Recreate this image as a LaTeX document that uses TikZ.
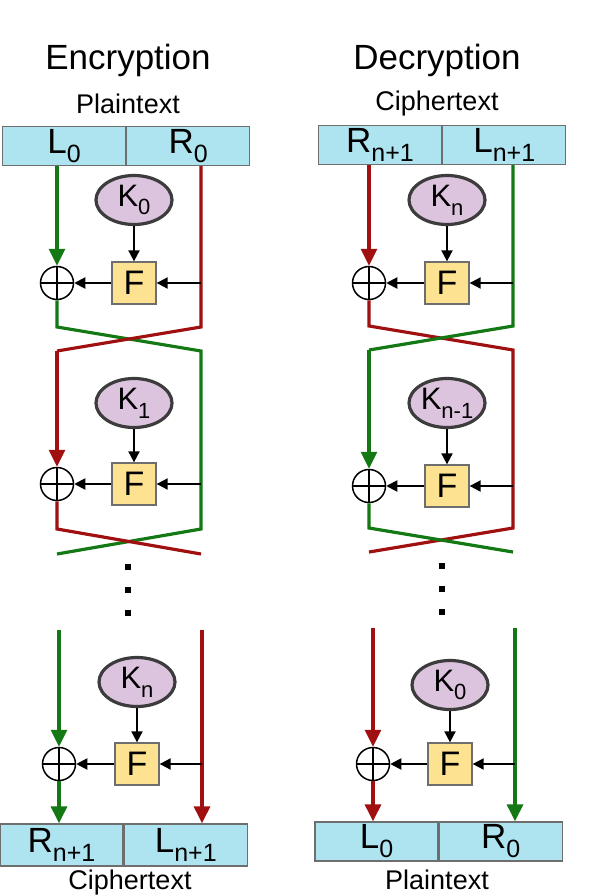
\documentclass[tikz,border=0pt]{standalone}
\usepackage{fontspec}
\setmainfont{Liberation Sans}
\usetikzlibrary{arrows.meta,shapes.geometric,positioning}

\definecolor{halfblue}{RGB}{174,228,240}
\definecolor{keypink}{RGB}{221,196,222}
\definecolor{keyrim}{RGB}{60,60,60}
\definecolor{fyellow}{RGB}{252,226,145}
\definecolor{boxgray}{RGB}{110,110,110}
\definecolor{wiregreen}{RGB}{20,120,20}
\definecolor{wirered}{RGB}{160,16,16}

\newcommand{\lowsub}[1]{\raisebox{-0.26em}{\fontsize{25}{25}\selectfont #1}}
\newcommand{\keysub}[1]{\raisebox{-0.28em}{\fontsize{22}{22}\selectfont #1}}

\begin{document}
\begin{tikzpicture}[x=1pt,y=-1pt,>={Triangle[length=11pt,width=11pt]},
	half/.style={draw=boxgray,fill=halfblue,line width=1.3pt,minimum width=123pt,
		minimum height=39pt,inner sep=0pt,font=\fontsize{35}{36}\selectfont},
	key/.style={ellipse,draw=keyrim,line width=3.2pt,fill=keypink,minimum width=76pt,
		minimum height=49pt,inner sep=0pt,font=\fontsize{31}{32}\selectfont},
	fbox/.style={draw=boxgray,line width=1.3pt,fill=fyellow,minimum width=44pt,
		minimum height=42pt,inner sep=0pt,font=\fontsize{34}{34}\selectfont},
	xor/.style={circle,draw,line width=1.5pt,minimum size=33pt,inner sep=0pt,
		path picture={\draw[line width=1.5pt] (path picture bounding box.north) -- (path picture bounding box.south)
			(path picture bounding box.west) -- (path picture bounding box.east);}},
	gwire/.style={draw=wiregreen,line width=3.2pt},
	rwire/.style={draw=wirered,line width=3.2pt},
	tip/.style={-{Triangle[length=17pt,width=16pt]}},
	farrow/.style={->,line width=1.9pt},
	title/.style={font=\fontsize{35}{36}\selectfont},
	caption/.style={font=\fontsize{27}{28}\selectfont},
	dot/.style={fill,minimum size=6pt,inner sep=0pt}]
	
	\useasboundingbox (0,0) rectangle (594,896);
	
	% encryption
	\node[title] (enctitle) at (128,60) {Encryption};
	\node[caption] (encin) at (128,104) {Plaintext};
	\node[half] (eL0) at (64,146) {L\lowsub{0}};
	\node[half,right=0pt of eL0] (eR0) {R\lowsub{0}};
	
	\node[key] (eK0) at (134,200) {K\keysub{0}};
	\node[fbox] (eF0) at (134,283) {F};
	\node[xor] (eX0) at (57,283) {};
	\coordinate (e1tl) at (57,327);
	\coordinate (e1tr) at (201,327);
	\coordinate (e1bl) at (57,351);
	\coordinate (e1br) at (201,351);
	
	\node[key] (eK1) at (134,403) {K\keysub{1}};
	\node[fbox] (eF1) at (134,484) {F};
	\node[xor] (eX1) at (57,484) {};
	\coordinate (e2tl) at (57,529);
	\coordinate (e2tr) at (201,529);
	\coordinate (e2bl) at (57,554);
	\coordinate (e2br) at (201,554);
	
	\node[dot] (edot1) at (128,567) {};
	\node[dot] (edot2) at (128,590) {};
	\node[dot] (edot3) at (128,613) {};
	
	\coordinate (e3l) at (59,630);
	\coordinate (e3r) at (202,630);
	\node[key] (eKn) at (137,682) {K\keysub{n}};
	\node[fbox] (eFn) at (137,764) {F};
	\node[xor] (eXn) at (59,764) {};
	\node[half,minimum height=42pt] (eRn) at (61.5,845) {R\lowsub{n+1}};
	\node[half,minimum height=42pt,right=0pt of eRn] (eLn) {L\lowsub{n+1}};
	\node[caption] (encout) at (130,883) {Ciphertext};
	
	\draw[gwire,tip] (eL0.south -| eX0) -- (eX0);
	\draw[gwire] (eX0) -- (e1tl) -- (e1br) -- (e2tr) -- (e2bl);
	\draw[rwire] (eR0.south -| e1tr) -- (e1tr) -- (e1bl);
	\draw[rwire,tip] (e1bl) -- (eX1);
	\draw[rwire] (eX1) -- (e2tl) -- (e2br);
	\draw[gwire,tip] (e3l) -- (eXn);
	\draw[gwire,tip] (eXn) -- (eRn.north -| eXn);
	\draw[rwire,tip] (e3r) -- (eLn.north -| e3r);
	
	\draw[farrow] (eK0) -- (eF0);
	\draw[farrow] (eF0 -| e1tr) -- (eF0);
	\draw[farrow] (eF0) -- (eX0);
	\draw[farrow] (eK1) -- (eF1);
	\draw[farrow] (eF1 -| e2tr) -- (eF1);
	\draw[farrow] (eF1) -- (eX1);
	\draw[farrow] (eKn) -- (eFn);
	\draw[farrow] (eFn -| e3r) -- (eFn);
	\draw[farrow] (eFn) -- (eXn);
	
	% decryption
	\node[title] (dectitle) at (437,60) {Decryption};
	\node[caption] (decin) at (437,104) {Ciphertext};
	\node[half] (dRn) at (380,145) {R\lowsub{n+1}};
	\node[half,right=0pt of dRn] (dLn) {L\lowsub{n+1}};
	
	\node[key] (dK0) at (447,200) {K\keysub{n}};
	\node[fbox] (dF0) at (447,283) {F};
	\node[xor] (dX0) at (369,283) {};
	\coordinate (d1tl) at (369,326);
	\coordinate (d1tr) at (513,326);
	\coordinate (d1bl) at (369,350);
	\coordinate (d1br) at (513,350);
	
	\node[key] (dK1) at (447,403) {K\keysub{n-1}};
	\node[fbox] (dF1) at (447,486) {F};
	\node[xor] (dX1) at (369,486) {};
	\coordinate (d2tl) at (369,528);
	\coordinate (d2tr) at (513,528);
	\coordinate (d2bl) at (369,552);
	\coordinate (d2br) at (513,552);
	
	\node[dot] (ddot1) at (442,566) {};
	\node[dot] (ddot2) at (442,589) {};
	\node[dot] (ddot3) at (442,612) {};
	
	\coordinate (d3l) at (373,628);
	\coordinate (d3r) at (515,628);
	\node[key] (dKn) at (450,685) {K\keysub{0}};
	\node[fbox] (dFn) at (450,764) {F};
	\node[xor] (dXn) at (373,764) {};
	\node[half] (dL0) at (376.5,841.5) {L\lowsub{0}};
	\node[half,right=0pt of dL0] (dR0) {R\lowsub{0}};
	\node[caption] (decout) at (437,880) {Plaintext};
	
	\draw[rwire,tip] (dRn.south -| dX0) -- (dX0);
	\draw[rwire] (dX0) -- (d1tl) -- (d1br) -- (d2tr) -- (d2bl);
	\draw[gwire] (dLn.south -| d1tr) -- (d1tr) -- (d1bl);
	\draw[gwire,tip] (d1bl) -- (dX1);
	\draw[gwire] (dX1) -- (d2tl) -- (d2br);
	\draw[rwire,tip] (d3l) -- (dXn);
	\draw[rwire,tip] (dXn) -- (dL0.north -| dXn);
	\draw[gwire,tip] (d3r) -- (dR0.north -| d3r);
	
	\draw[farrow] (dK0) -- (dF0);
	\draw[farrow] (dF0 -| d1tr) -- (dF0);
	\draw[farrow] (dF0) -- (dX0);
	\draw[farrow] (dK1) -- (dF1);
	\draw[farrow] (dF1 -| d2tr) -- (dF1);
	\draw[farrow] (dF1) -- (dX1);
	\draw[farrow] (dKn) -- (dFn);
	\draw[farrow] (dFn -| d3r) -- (dFn);
	\draw[farrow] (dFn) -- (dXn);
\end{tikzpicture}
\end{document}
